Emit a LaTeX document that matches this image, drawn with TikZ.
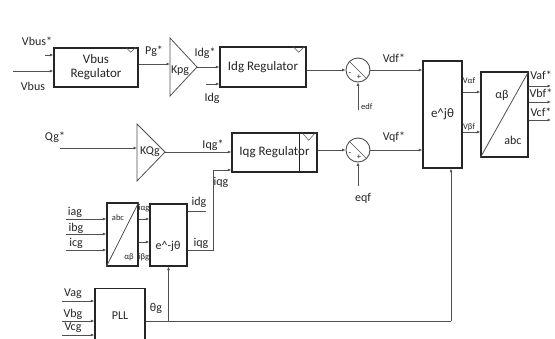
\documentclass[tikz,border=0pt]{standalone}
\usepackage{fontspec}
\setmainfont{Carlito}
\usetikzlibrary{arrows.meta,calc}
\definecolor{ln}{HTML}{505050}
\definecolor{tx}{HTML}{262626}
\begin{document}
\begin{tikzpicture}[x=1pt,y=-1pt,
  blk/.style={draw=tx,line width=1.4pt,fill=white,inner sep=0pt,font=\fontsize{13}{14}\selectfont,text=tx,align=center},
  wire/.style={draw=ln,line width=0.8pt},
  arr/.style={wire,-{Latex[length=3.5pt,width=3pt]}},
  lbl/.style={text=tx,inner sep=0pt,font=\fontsize{12}{13}\selectfont},
  sml/.style={text=tx,inner sep=0pt,font=\fontsize{8.5}{9}\selectfont},
  sumc/.style={circle,draw=ln,line width=0.9pt,minimum size=24pt,inner sep=0pt},
  tri/.style={draw=ln,line width=0.8pt,fill=white},
  notch/.style={draw=ln,line width=0.5pt}
]
\useasboundingbox[fill=white] (0,0) rectangle (555,338);

% ---------------- blocks ----------------
\node[blk,minimum width=84pt,minimum height=39pt] (vbus) at (96,67.5) {Vbus\\Regulator};
\draw[notch] ($(vbus.north east)+(-13,0)$) -- ++(5,5) -- ++(5,-5);

\coordinate (kpgA) at (170,38);
\coordinate (kpgB) at (170,96);
\coordinate (kpgT) at (197,67);
\draw[tri] (kpgA) -- (kpgT) -- (kpgB) -- cycle;
\node[lbl] (kpg) at (180,71) {Kpg};

\node[blk,minimum width=86pt,minimum height=40pt] (idg) at (263,67) {Idg Regulator};
\draw[notch] ($(idg.north east)+(-14,0)$) -- ++(6,6) -- ++(6,-6);

\node[sumc] (s1) at (358,70) {};
\draw[ln,line width=0.6pt] (s1.north west) -- (s1.south east);
\node[sml] (s1a) at (350,74) {-};
\node[sml] (s1b) at (359,77) {+};

\node[blk,minimum width=39pt,minimum height=107pt] (ejt) at (442.5,114.5) {e\textasciicircum jθ};

\node[blk,minimum width=47pt,minimum height=85pt] (ab) at (504.5,114.5) {};
\draw[ln,line width=0.8pt] (ab.south west) -- (ab.north east);
\node[lbl] (abt1) at (502,95) {αβ};
\node[lbl] (abt2) at (513,140) {abc};

\coordinate (kqgA) at (137,124);
\coordinate (kqgB) at (137,181);
\coordinate (kqgT) at (165,152);
\draw[tri] (kqgA) -- (kqgT) -- (kqgB) -- cycle;
\node[lbl] (kqg) at (150,152) {KQg};

\node[blk,minimum width=85pt,minimum height=39pt] (iqg) at (274.5,152.5) {Iqg Regulator};
\draw[tx,line width=0.9pt] ($(iqg.north east)+(-18,0)$) -- ($(iqg.south east)+(-18,0)$);
\draw[notch] ($(iqg.north east)+(-16,0)$) -- ++(7,8) -- ++(7,-8);

\node[sumc] (s2) at (358,150) {};
\draw[ln,line width=0.6pt] (s2.north west) -- (s2.south east);
\node[sml] (s2a) at (350,154) {-};
\node[sml] (s2b) at (359,157) {+};

\node[blk,minimum width=31pt,minimum height=63pt] (abc) at (122.5,234.5) {};
\draw[ln,line width=0.8pt] (abc.south west) -- (abc.north east);
\node[sml] (abct1) at (118,218) {abc};
\node[sml] (abct2) at (129,257) {αβ};

\node[blk,minimum width=37pt,minimum height=62pt] (emj) at (168.5,235) {};
\node[lbl] (emjt) at (168,246) {e\textasciicircum-jθ};

\node[blk,minimum width=50pt,minimum height=60pt,anchor=north] (pll) at (120,288) {};
\node[lbl] (pllt) at (120,316) {PLL};

% ---------------- connectors ----------------
\coordinate (vbusS) at (45,55);
\coordinate (vbusIn) at (13,71);
\draw[arr] (vbusS) -- (vbusS -| vbus.west);
\draw[arr] (vbusIn) -- (vbusIn -| vbus.west);
\coordinate (kpgIn) at (170,64);
\draw[arr] (vbus.east |- kpgIn) -- (kpgIn);
\draw[arr] (kpgT) -- (kpgT -| idg.west);
\coordinate (idgIn) at (206,84);
\draw[arr] (idgIn) -- (idgIn -| idg.west);
\draw[arr] (idg.east |- s1) -- (s1.west);
\coordinate (edfIn) at (358,110);
\draw[arr] (edfIn) -- (s1.south);
\draw[arr] (s1.east) -- (s1.east -| ejt.west);

\coordinate (qgIn) at (60,148);
\draw[arr] (qgIn) -- (qgIn -| kqgA);
\draw[arr] (kqgT) -- (kqgT -| iqg.west);
\coordinate (iqgC) at (213,250);
\coordinate (iqgIn) at (213,170);
\draw[arr] (emj.east |- iqgC) -- (iqgC) -- (iqgIn) -- (iqgIn -| iqg.west);
\draw[arr] (iqg.east |- s2) -- (s2.west);
\coordinate (eqfIn) at (358,186);
\draw[arr] (eqfIn) -- (s2.south);
\draw[arr] (s2.east) -- (s2.east -| ejt.west);

\coordinate (vaIn) at (470,92);
\coordinate (vbIn) at (470,132);
\draw[arr] (ejt.east |- vaIn) -- (vaIn -| ab.west);
\draw[arr] (ejt.east |- vbIn) -- (vbIn -| ab.west);
\coordinate (oa) at (551,86);
\coordinate (ob) at (551,102);
\coordinate (oc) at (551,120);
\draw[arr] (ab.east |- oa) -- (oa);
\draw[arr] (ab.east |- ob) -- (ob);
\draw[arr] (ab.east |- oc) -- (oc);

\coordinate (iagIn) at (66,219);
\coordinate (ibgIn) at (66,234);
\coordinate (icgIn) at (66,250);
\draw[arr] (iagIn) -- (iagIn -| abc.west);
\draw[arr] (ibgIn) -- (ibgIn -| abc.west);
\draw[arr] (icgIn) -- (icgIn -| abc.west);
\coordinate (ialf) at (144,219);
\coordinate (ibet) at (144,242);
\draw[arr] (abc.east |- ialf) -- (ialf -| emj.west);
\draw[arr] (abc.east |- ibet) -- (ibet -| emj.west);
\coordinate (idgOut) at (206,211);
\draw[wire] (emj.east |- idgOut) -- (idgOut);

\coordinate (vagIn) at (62,301);
\coordinate (vbgIn) at (62,321);
\coordinate (vcgIn) at (62,335);
\draw[arr] (vagIn) -- (vagIn -| pll.west);
\draw[arr] (vbgIn) -- (vbgIn -| pll.west);
\draw[arr] (vcgIn) -- (vcgIn -| pll.west);
\coordinate (thJ) at (168.5,321);
\coordinate (thE) at (451,321);
\draw[wire] (pll.east |- thJ) -- (thE);
\draw[arr] (thJ) -- (emj.south);
\draw[arr] (thE) -- (thE |- ejt.south);

% ---------------- labels ----------------
\node[lbl] (l1) at (37,41) {Vbus*};
\node[lbl] (l2) at (33,86) {Vbus};
\node[lbl] (l3) at (154,51) {Pg*};
\node[lbl] (l4) at (205,53) {Idg*};
\node[lbl] (l5) at (212,98) {Idg};
\node[lbl] (l6) at (394,58) {Vdf*};
\node[sml,anchor=west] (l7) at (361,107) {edf};
\node[lbl] (l8) at (55,137) {Qg*};
\node[lbl] (l9) at (213,145) {Iqg*};
\node[lbl] (l10) at (221,182) {iqg};
\node[lbl] (l11) at (394,137) {Vqf*};
\node[lbl] (l12) at (363,198) {eqf};
\node[sml] (l13) at (469,81) {Vαf};
\node[sml] (l14) at (469,127) {Vβf};
\node[lbl] (l15) at (541,75) {Vaf*};
\node[lbl] (l16) at (541,93) {Vbf*};
\node[lbl] (l17) at (541,112) {Vcf*};
\node[lbl] (l18) at (75,212) {iag};
\node[lbl] (l19) at (76,228) {ibg};
\node[lbl] (l20) at (76,243) {icg};
\node[sml] (l21) at (144,208) {iαg};
\node[sml] (l22) at (144,257) {iβg};
\node[lbl] (l23) at (199,202) {idg};
\node[lbl] (l24) at (201,243) {iqg};
\node[lbl] (l25) at (73,294) {Vag};
\node[lbl] (l26) at (73,314) {Vbg};
\node[lbl] (l27) at (73,328) {Vcg};
\node[lbl] (l28) at (156,308) {θg};
\end{tikzpicture}
\end{document}
